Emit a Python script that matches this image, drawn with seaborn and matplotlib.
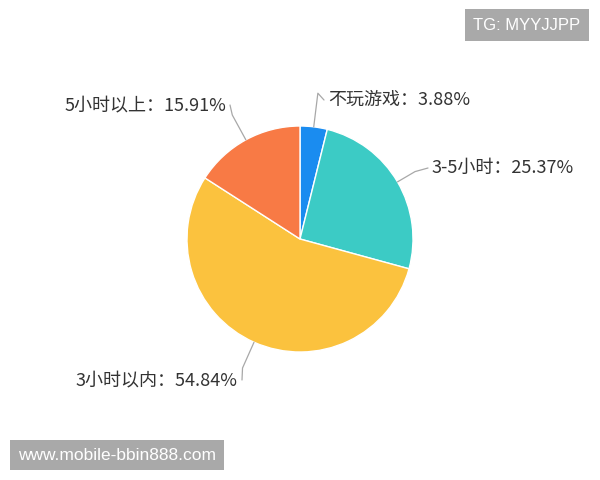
import numpy as np
import matplotlib
matplotlib.use("Agg")
import matplotlib.pyplot as plt
import seaborn as sns

sns.set_theme(style="white")
plt.rcParams["font.family"] = ["Noto Sans CJK SC", "DejaVu Sans"]

# data (clockwise from 12 o'clock)
categories = ["不玩游戏", "3-5小时", "3小时以内", "5小时以上"]
shares = [3.88, 25.37, 54.84, 15.91]
colors = ["#1a8cf0", "#3ccbc5", "#fbc23e", "#f87a45"]

# label placement: (elbow radius factor, text x, text y, ha)
label_pos = {
    "不玩游戏": (1.30, 328, 380, "left"),
    "3-5小时": (1.18, 432, 312, "left"),
    "5小时以上": (1.25, 226, 375, "right"),
    "3小时以内": (1.25, 238, 100, "right"),
}

fig = plt.figure(figsize=(6, 4.8), dpi=100)
ax = fig.add_axes([0, 0, 1, 1])

cx, cy, r = 300, 241, 113
wedges, _ = ax.pie(shares, colors=colors, startangle=90, counterclock=False,
                   center=(cx, cy), radius=r, frame=True,
                   wedgeprops=dict(edgecolor="white", linewidth=1.0))
ax.set_xlim(0, 600)
ax.set_ylim(0, 480)
ax.set_aspect("equal")
ax.axis("off")

for w, cat, val in zip(wedges, categories, shares):
    mid = np.deg2rad((w.theta1 + w.theta2) / 2)
    k, tx, ty, ha = label_pos[cat]
    x0, y0 = cx + r * np.cos(mid), cy + r * np.sin(mid)
    x1, y1 = cx + k * r * np.cos(mid), cy + k * r * np.sin(mid)
    x2 = tx - 4 if ha == "left" else tx + 4
    ax.plot([x0, x1, x2], [y0, y1, ty], color="#a8a8a8", lw=0.9,
            solid_joinstyle="round")
    ax.text(tx, ty, f"{cat}：{val:.2f}%", ha=ha, va="center",
            fontsize=13, color="#333333")

# watermark boxes
ax.text(527, 455, "TG: MYYJJPP", ha="center", va="center", fontsize=12,
        color="white", family=["Liberation Sans", "DejaVu Sans"],
        bbox=dict(boxstyle="square,pad=0.5", fc="#a9a9a9", ec="none"))
ax.text(117, 25, "www.mobile-bbin888.com", ha="center", va="center",
        fontsize=12.5, color="white", family=["Liberation Sans", "DejaVu Sans"],
        bbox=dict(boxstyle="square,pad=0.45", fc="#a9a9a9", ec="none"))

fig.savefig("out.png", dpi=100)
